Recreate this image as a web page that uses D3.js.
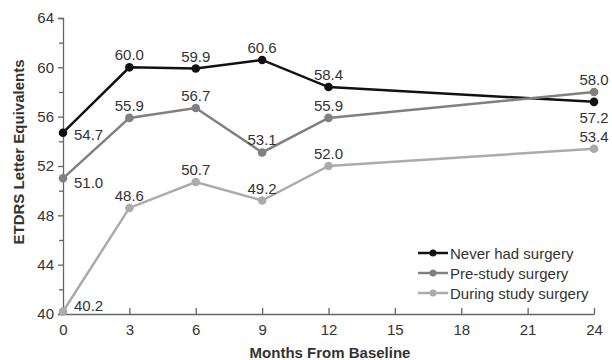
<!DOCTYPE html>
<html>
<head>
<meta charset="utf-8">
<script src="https://cdn.jsdelivr.net/npm/d3@7"></script>
<style>
  body { margin: 0; background: #fff; }
  text { font-family: "Liberation Sans", Arial, sans-serif; fill: #333; }
</style>
</head>
<body>
<div id="chart"></div>
<script>
// Valeurs
const months = [0, 3, 6, 9, 12, 24];
const neverSurgery = [54.7, 60.0, 59.9, 60.6, 58.4, 57.2];
const preStudy = [51.0, 55.9, 56.7, 53.1, 55.9, 58.0];
const duringStudy = [40.2, 48.6, 50.7, 49.2, 52.0, 53.4];
const xTicks = [0, 3, 6, 9, 12, 15, 18, 21, 24];
const yTicks = [40, 44, 48, 52, 56, 60, 64];

// position des étiquettes : 'a' au-dessus, 'b' en dessous, 'r' à droite, 'ra' à droite-haut
const neverPos = ['r', 'a', 'a', 'a', 'a', 'b'];
const prePos = ['r', 'a', 'a', 'a', 'a', 'a'];
const duringPos = ['ra', 'a', 'a', 'a', 'a', 'a'];

const series = [
    { name: 'Never had surgery', values: neverSurgery, pos: neverPos, color: '#111111' },
    { name: 'Pre-study surgery', values: preStudy, pos: prePos, color: '#808080' },
    { name: 'During study surgery', values: duringStudy, pos: duringPos, color: '#ababab' }
];

const width = 612, height = 360;
const margin = { top: 18, right: 18, bottom: 46, left: 63 };
const fs = 15;

const svg = d3.select('#chart').append('svg')
    .attr('width', width)
    .attr('height', height);

const x = d3.scaleLinear().domain([0, 24]).range([margin.left, width - margin.right]);
const y = d3.scaleLinear().domain([40, 64]).range([height - margin.bottom, margin.top]);

// Axe Y
svg.append('g')
    .attr('transform', `translate(${margin.left},0)`)
    .call(d3.axisLeft(y).tickValues(yTicks).tickSize(5).tickPadding(4));
svg.append('g')
    .attr('transform', `translate(${margin.left},0)`)
    .call(d3.axisLeft(y).tickValues(d3.range(42, 64, 4)).tickSize(4).tickFormat(''))
    .select('.domain').remove();

// Axe X (graduations vers l'intérieur)
svg.append('g')
    .attr('transform', `translate(0,${height - margin.bottom})`)
    .call(d3.axisBottom(x).tickValues(xTicks).tickSizeInner(-6).tickSizeOuter(0).tickPadding(10));

svg.selectAll('.domain, .tick line').attr('stroke', '#666').attr('stroke-width', 1.3);
svg.selectAll('.tick text').attr('font-size', fs).style('fill', '#333');

// Titres des axes
svg.append('text')
    .attr('x', 330)
    .attr('y', 358)
    .attr('text-anchor', 'middle')
    .attr('font-size', fs)
    .attr('font-weight', 'bold')
    .text('Months From Baseline');

svg.append('text')
    .attr('transform', 'translate(24,152) rotate(-90)')
    .attr('text-anchor', 'middle')
    .attr('font-size', fs)
    .attr('font-weight', 'bold')
    .text('ETDRS Letter Equivalents');

const line = d3.line()
    .x((d, i) => x(months[i]))
    .y(d => y(d));

series.forEach(s => {
    const g = svg.append('g');
    g.append('path')
        .datum(s.values)
        .attr('fill', 'none')
        .attr('stroke', s.color)
        .attr('stroke-width', 2.5)
        .attr('d', line);
    g.selectAll('circle')
        .data(s.values)
        .enter()
        .append('circle')
        .attr('cx', (d, i) => x(months[i]))
        .attr('cy', d => y(d))
        .attr('r', 4.3)
        .attr('fill', s.color);
    g.selectAll('text.lbl')
        .data(s.values)
        .enter()
        .append('text')
        .attr('class', 'lbl')
        .attr('font-size', fs)
        .attr('text-anchor', (d, i) => s.pos[i][0] === 'r' ? 'start' : 'middle')
        .attr('x', (d, i) => x(months[i]) + (s.pos[i][0] === 'r' ? 11 : 0))
        .attr('y', (d, i) => {
            const p = s.pos[i];
            if (p === 'a') return y(d) - 7;
            if (p === 'b') return y(d) + 21;
            if (p === 'r') return y(d) + 7 + (d < 52 ? 3 : 0);
            return y(d) - 1;
        })
        .text(d => d.toFixed(1));
});

// Légende
const legend = svg.append('g').attr('transform', 'translate(418,253)');
series.forEach((s, i) => {
    const row = legend.append('g').attr('transform', `translate(0,${i * 20})`);
    row.append('line')
        .attr('x1', 0).attr('x2', 30)
        .attr('stroke', s.color)
        .attr('stroke-width', 2.5);
    row.append('circle')
        .attr('cx', 15)
        .attr('r', 3.5)
        .attr('fill', s.color);
    row.append('text')
        .attr('x', 32)
        .attr('y', 5.5)
        .attr('font-size', fs)
        .text(s.name);
});
</script>
</body>
</html>
